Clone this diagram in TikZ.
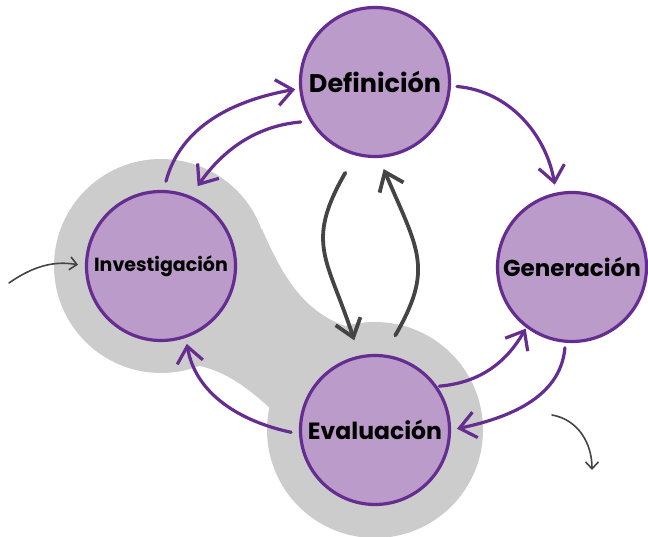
\documentclass[tikz,border=0pt]{standalone}
\usepackage{fontspec}
\setmainfont{Poppins}
\usetikzlibrary{arrows.meta}
\definecolor{cfill}{RGB}{186,155,201}
\definecolor{cline}{RGB}{102,45,145}
\definecolor{blob}{RGB}{204,204,204}
\definecolor{darkarrow}{RGB}{68,68,68}
\tikzset{
  phase/.style={circle, draw=cline, fill=cfill, line width=3.2pt, minimum size=149pt, inner sep=0pt, font=\bfseries\fontsize{24}{28}\selectfont, text=black},
  parrow/.style={draw=cline, line width=3.2pt, line cap=round, line join=round, -{Straight Barb[length=16pt,width=26pt]}},
  garrow/.style={draw=darkarrow, line width=3.8pt, line cap=round, line join=round, -{Straight Barb[length=17pt,width=26pt]}},
  sarrow/.style={draw=darkarrow, line width=1.6pt, line cap=round, line join=round, -{Straight Barb[length=7pt,width=13pt]}}
}
\begin{document}
\begin{tikzpicture}[x=1pt,y=1pt]
\useasboundingbox (0,0) rectangle (648,537);
% gray blob
\fill[blob] (161,271) circle (107);
\fill[blob] (375,107) circle (108);
\fill[blob] (262,308) .. controls (280,267) and (300,227) .. (345,211)
  -- (375,107) -- (272,127) .. controls (245,152) and (225,165) .. (200,171)
  -- (161,271) -- cycle;
% nodes
\node[phase, font=\bfseries\fontsize{25.5}{30}\selectfont] (def) at (375,455) {Definición};
\node[phase, font=\bfseries\fontsize{19}{22}\selectfont] (inv) at (161,271) {Investigación};
\node[phase, font=\bfseries\fontsize{23}{27}\selectfont] (gen) at (572,270) {Generación};
\node[phase, font=\bfseries\fontsize{23.5}{27}\selectfont] (eva) at (375,107) {Evaluación};
\coordinate (s1) at (9,254);
\coordinate (s2a) at (552,122);
\coordinate (s2b) at (592,67);
% purple arrows
\draw[parrow, shorten <=9pt, shorten >=4pt] (inv.88) to[out=75, in=190] (def.185);
\draw[parrow, shorten <=9pt, shorten >=12pt] (def.211) to[out=185, in=55] (inv.67);
\draw[parrow, shorten <=6pt, shorten >=8pt] (def.-3) to[out=-5, in=100] (gen.102);
\draw[parrow, shorten <=5pt, shorten >=6pt] (gen.265) to[out=-95, in=12] (eva.0);
\draw[parrow, shorten <=2pt, shorten >=1pt] (eva.35) to[out=5, in=240] (gen.233);
\draw[parrow, shorten <=8pt, shorten >=6pt] (eva.183) to[out=168, in=-80] (inv.289);
% gray arrows
\draw[garrow, shorten <=20pt, shorten >=16pt] (def.255) to[out=240, in=108, looseness=1.3] (eva.102);
\draw[garrow, shorten <=22pt, shorten >=12pt] (eva.83) to[out=60, in=-67, looseness=1.3] (def.273);
\draw[sarrow, shorten >=7pt] (s1) to[out=35, in=170] (inv.180);
\draw[sarrow] (s2a) to[out=-10, in=90] (s2b);
\end{tikzpicture}
\end{document}
